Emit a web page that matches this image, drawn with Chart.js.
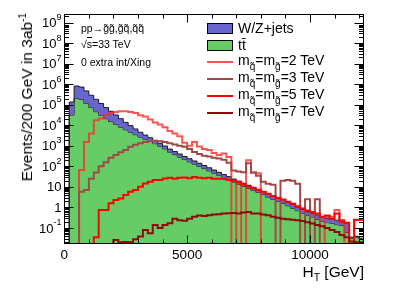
<!DOCTYPE html>
<html>
<head>
<meta charset="utf-8">
<script src="https://cdn.jsdelivr.net/npm/chart.js@4.4.1/dist/chart.umd.min.js"></script>
<style>
body { margin: 0; background: #fff; }
#wrap { position: relative; width: 405px; height: 291px; font-family: "Liberation Sans", Arial, Helvetica, sans-serif; color: #000; }
#wrap canvas { position: absolute; left: 0; top: 0; }
.t { position: absolute; white-space: nowrap; }
.note { font-size: 10.5px; line-height: 12px; left: 81px; }
.leg { font-size: 14px; line-height: 16px; left: 238px; }
.sb { font-size: 10px; position: relative; top: 5px; }
.box { position: absolute; left: 207px; width: 26px; height: 11px; box-sizing: border-box; border: 1px solid #000; }
.ln { position: absolute; left: 207px; width: 26px; height: 2px; }
</style>
</head>
<body>
<div id="wrap">
  <canvas id="myChart" width="405" height="291"></canvas>

  <div class="t note" style="top:22px">pp&rarr;g&#771;g&#771;,g&#771;q&#771;,q&#771;q&#771;</div>
  <div class="t note" style="top:38px">&radic;<span style="border-top:1px solid #000">s</span>=33 TeV</div>
  <div class="t note" style="top:56px">0 extra int/Xing</div>

  <div class="box" style="top:23px;background:#6666cc"></div>
  <div class="t leg" style="top:20px">W/Z+jets</div>
  <div class="box" style="top:40px;background:#66cc66"></div>
  <div class="t leg" style="top:37px">tt&#772;</div>
  <div class="ln" style="top:61px;background:rgba(255,40,40,0.8)"></div>
  <div class="t leg" style="top:52px">m<span class="sb">q&#771;</span>=m<span class="sb">g&#771;</span>=2 TeV</div>
  <div class="ln" style="top:78px;background:#a34848"></div>
  <div class="t leg" style="top:69px">m<span class="sb">q&#771;</span>=m<span class="sb">g&#771;</span>=3 TeV</div>
  <div class="ln" style="top:95px;background:#ff0000"></div>
  <div class="t leg" style="top:86px">m<span class="sb">q&#771;</span>=m<span class="sb">g&#771;</span>=5 TeV</div>
  <div class="ln" style="top:112px;background:#8f0a0a"></div>
  <div class="t leg" style="top:103px">m<span class="sb">q&#771;</span>=m<span class="sb">g&#771;</span>=7 TeV</div>

  <div class="t" style="font-size:15.5px;line-height:18px;left:27.5px;top:13px;transform-origin:0 0;transform:rotate(-90deg) translate(-100%,-50%)">Events/200 GeV in 3ab<span style="font-size:10px;position:relative;top:-6px">-1</span></div>
  <div class="t" style="font-size:15.5px;line-height:18px;right:41px;top:263px">H<span style="font-size:10.5px;position:relative;top:4px">T</span> [GeV]</div>
</div>

<script>
// histogram bins of 200 GeV starting at 0
var binWidth = 200;
var xMax = 12200;
var yMin = 0.0166;
var yMax = 2.6e9;
var xTickValues = [0, 5000, 10000];
var yDecades = [-1, 0, 1, 2, 3, 4, 5, 6, 7, 8, 9];

var ttbar = [0, 3.16e4, 2.0e5, 1.78e5, 1.15e5, 7.24e4, 4.57e4, 3.02e4, 2.09e4, 1.51e4,
  1.10e4, 8130, 6030, 4570, 3470, 2630, 2040, 1620, 1260, 955,
  708, 490, 372, 282, 214, 166, 129, 100, 77.6, 60.3,
  46.8, 36.3, 28.2, 22.4, 17.0, 13.5, 10.7, 8.51, 6.76, 5.37,
  4.27, 3.16, 2.51, 2.0, 1.58, 1.20, 0.912, 0.692, 0.525, 0.417,
  0.347, 0.263, 0.214, 0.182, 0.170, 0.145, 0.135, 0.060, 0.0316, 0.0355,
  0.0282];

var wzjets = [0, 1.03e5, 6.13e5, 5.46e5, 3.53e5, 2.16e5, 1.36e5, 8.48e4, 5.15e4, 3.28e4,
  2.06e4, 1.28e4, 7770, 4980, 3140, 1940, 1270, 830, 560, 365,
  269, 202, 153, 116, 88, 68, 53, 41, 32, 24.8,
  19.3, 15.0, 11.6, 9.2, 7.0, 5.6, 4.4, 3.5, 2.79, 2.22,
  1.76, 1.63, 1.29, 1.02, 0.82, 0.62, 0.47, 0.36, 0.27, 0.21,
  0.18, 0.17, 0.14, 0.12, 0.11, 0.095, 0.105, 0.11, 0.004, 0.004,
  0.0035];

var sig2TeV = [0, 0, 0, 66, 1550, 3980, 1.74e4, 2.14e4, 3.09e4, 3.98e4,
  4.47e4, 4.79e4, 4.79e4, 4.47e4, 3.98e4, 3.09e4, 2.63e4, 1.9e4, 1.38e4, 1.1e4,
  7940, 5250, 3980, 2950, 1410, 1000, 1550, 933, 708, 617,
  447, 355, 427, 288, 0, 17.8, 0, 200, 50, 46,
  0, 0, 0, 0, 0, 0, 0, 0, 0, 0,
  0, 0, 0, 0.355, 0.355, 0.76, 0.245, 0, 0, 0.245,
  0.245];

var sig3TeV = [0, 0, 0, 5.75, 7.08, 25.1, 50.1, 100, 158, 263,
  355, 479, 631, 891, 1120, 1320, 1510, 1660, 1740, 1660,
  1510, 1320, 1150, 1000, 891, 708, 501, 398, 331, 302,
  263, 240, 209, 151, 63, 56, 52, 141, 50, 35,
  17.8, 14.1, 12.6, 0, 20, 21.4, 20, 14.1, 0, 2.5,
  0, 2.5, 0, 0, 0, 0, 0, 0, 0, 0,
  0];

var sig5TeV = [0, 0, 0, 0, 0, 0, 0.035, 0.76, 0.76, 1.58,
  2.29, 2.75, 3.98, 5.75, 7.08, 10.2, 14.8, 17.8, 21.4, 21.4,
  25.7, 27.5, 25.1, 27.5, 28.8, 26.3, 30.2, 28.2, 26.3, 28.2,
  25.1, 25.1, 24.0, 21.4, 20.0, 16.6, 13.2, 10.5, 8.5, 7.08,
  5.75, 4.57, 3.63, 2.88, 2.4, 1.91, 1.51, 1.15, 0.89, 0.71,
  0.60, 0.50, 0.355, 0.40, 0.28, 0.50, 0.20, 0.178, 0, 0.25,
  0.25];

var sig7TeV = [0, 0, 0, 0, 0, 0, 0, 0, 0, 0,
  0.026, 0.02, 0.021, 0.02, 0.028, 0.038, 0.079, 0.056, 0.141, 0.1,
  0.141, 0.17, 0.28, 0.24, 0.224, 0.28, 0.355, 0.40, 0.38, 0.417,
  0.447, 0.468, 0.50, 0.525, 0.537, 0.50, 0.562, 0.603, 0.50, 0.50,
  0.447, 0.417, 0.355, 0.316, 0.282, 0.263, 0.251, 0.24, 0.219, 0.19,
  0.166, 0.141, 0.12, 0.1, 0.079, 0.063, 0.045, 0.035, 0.022, 0.02,
  0.02];

var fontFamily = '"Liberation Sans", Arial, Helvetica, sans-serif';

// left bin edges + closing edge, empty bins sit on the axis floor
function histPoints(vals) {
  var pts = [];
  for (var i = 0; i < vals.length; i++) {
    pts.push({ x: i * binWidth, y: vals[i] > 0 ? vals[i] : yMin });
  }
  pts.push({ x: vals.length * binWidth, y: pts[pts.length - 1].y });
  return pts;
}

var stackTop = ttbar.map(function (v, i) { return v + wzjets[i]; });

function sigSet(name, vals, color) {
  return { label: name, data: histPoints(vals), borderColor: color, borderWidth: 2,
    stepped: true, fill: false, pointRadius: 0 };
}

var rootAxes = {
  id: 'rootAxes',
  afterDatasetsDraw: function (chart) {
    var ctx = chart.ctx, a = chart.chartArea;
    var xs = chart.scales.x, ys = chart.scales.y;
    var L = Math.round(a.left) + 0.5, R = Math.round(a.right) - 0.5;
    var T = Math.round(a.top) + 0.5, B = Math.round(a.bottom) - 0.5;
    ctx.save();
    ctx.strokeStyle = '#000';
    ctx.lineWidth = 1;
    ctx.beginPath();
    for (var v = 0; v <= xMax; v += 1000) {
      var px = Math.round(xs.getPixelForValue(v)) + 0.5;
      var len = (v % 5000 === 0) ? 8 : 4;
      ctx.moveTo(px, B); ctx.lineTo(px, B - len);
      ctx.moveTo(px, T); ctx.lineTo(px, T + len);
    }
    for (var k = -2; k <= 9; k++) {
      for (var m = 1; m <= 9; m++) {
        var val = m * Math.pow(10, k);
        if (val < yMin || val > yMax) continue;
        var py = Math.round(ys.getPixelForValue(val)) + 0.5;
        var l2 = (m === 1) ? 9 : 4.5;
        ctx.moveTo(L, py); ctx.lineTo(L + l2, py);
        ctx.moveTo(R, py); ctx.lineTo(R - l2, py);
      }
    }
    ctx.stroke();
    ctx.strokeRect(L, T, R - L, B - T);

    // y labels: 10 with raised exponent
    ctx.fillStyle = '#000';
    ctx.textBaseline = 'middle';
    yDecades.forEach(function (k) {
      var py = ys.getPixelForValue(Math.pow(10, k)) + 1;
      var right = 61.5;
      if (k === 0 || k === 1) {
        ctx.font = '13px ' + fontFamily;
        ctx.textAlign = 'right';
        ctx.fillText(k === 0 ? '1' : '10', right, py);
        return;
      }
      var exp = String(k);
      ctx.font = '9px ' + fontFamily;
      var ew = ctx.measureText(exp).width;
      ctx.textAlign = 'left';
      ctx.fillText(exp, right - ew, py - 6);
      ctx.font = '13px ' + fontFamily;
      ctx.textAlign = 'right';
      ctx.fillText('10', right - ew, py);
    });
    ctx.restore();
  }
};

var ctx = document.getElementById('myChart').getContext('2d');
var chart = new Chart(ctx, {
  type: 'line',
  data: {
    datasets: [
      sigSet('m=7 TeV', sig7TeV, '#8f0a0a'),
      sigSet('m=5 TeV', sig5TeV, '#ff0000'),
      sigSet('m=3 TeV', sig3TeV, '#a34848'),
      sigSet('m=2 TeV', sig2TeV, 'rgba(255,40,40,0.8)'),
      { label: 'W/Z+jets', data: histPoints(stackTop), borderColor: '#1a1a1a', borderWidth: 1,
        backgroundColor: '#6666cc', fill: 5, stepped: true, pointRadius: 0 },
      { label: 'ttbar', data: histPoints(ttbar), borderColor: '#1a1a1a', borderWidth: 1,
        backgroundColor: '#66cc66', fill: 'start', stepped: true, pointRadius: 0 }
    ]
  },
  options: {
    responsive: false,
    animation: false,
    devicePixelRatio: 1,
    layout: { padding: { left: 0, right: 41, top: 14, bottom: 0 } },
    plugins: { legend: { display: false }, tooltip: { enabled: false } },
    elements: { point: { radius: 0 }, line: { tension: 0 } },
    scales: {
      x: {
        type: 'linear', min: 0, max: xMax,
        afterFit: function (s) { s.height = 47; },
        afterBuildTicks: function (s) { s.ticks = xTickValues.map(function (v) { return { value: v }; }); },
        grid: { display: false, drawTicks: false },
        border: { display: false },
        ticks: { padding: 3, color: '#000', maxRotation: 0, autoSkip: false,
          font: { family: fontFamily, size: 13.5 },
          callback: function (v) { return String(v); } }
      },
      y: {
        type: 'logarithmic', min: yMin, max: yMax,
        afterFit: function (s) { s.width = 64.3; },
        grid: { display: false },
        border: { display: false },
        ticks: { display: false }
      }
    }
  },
  plugins: [rootAxes]
});
</script>
</body>
</html>
